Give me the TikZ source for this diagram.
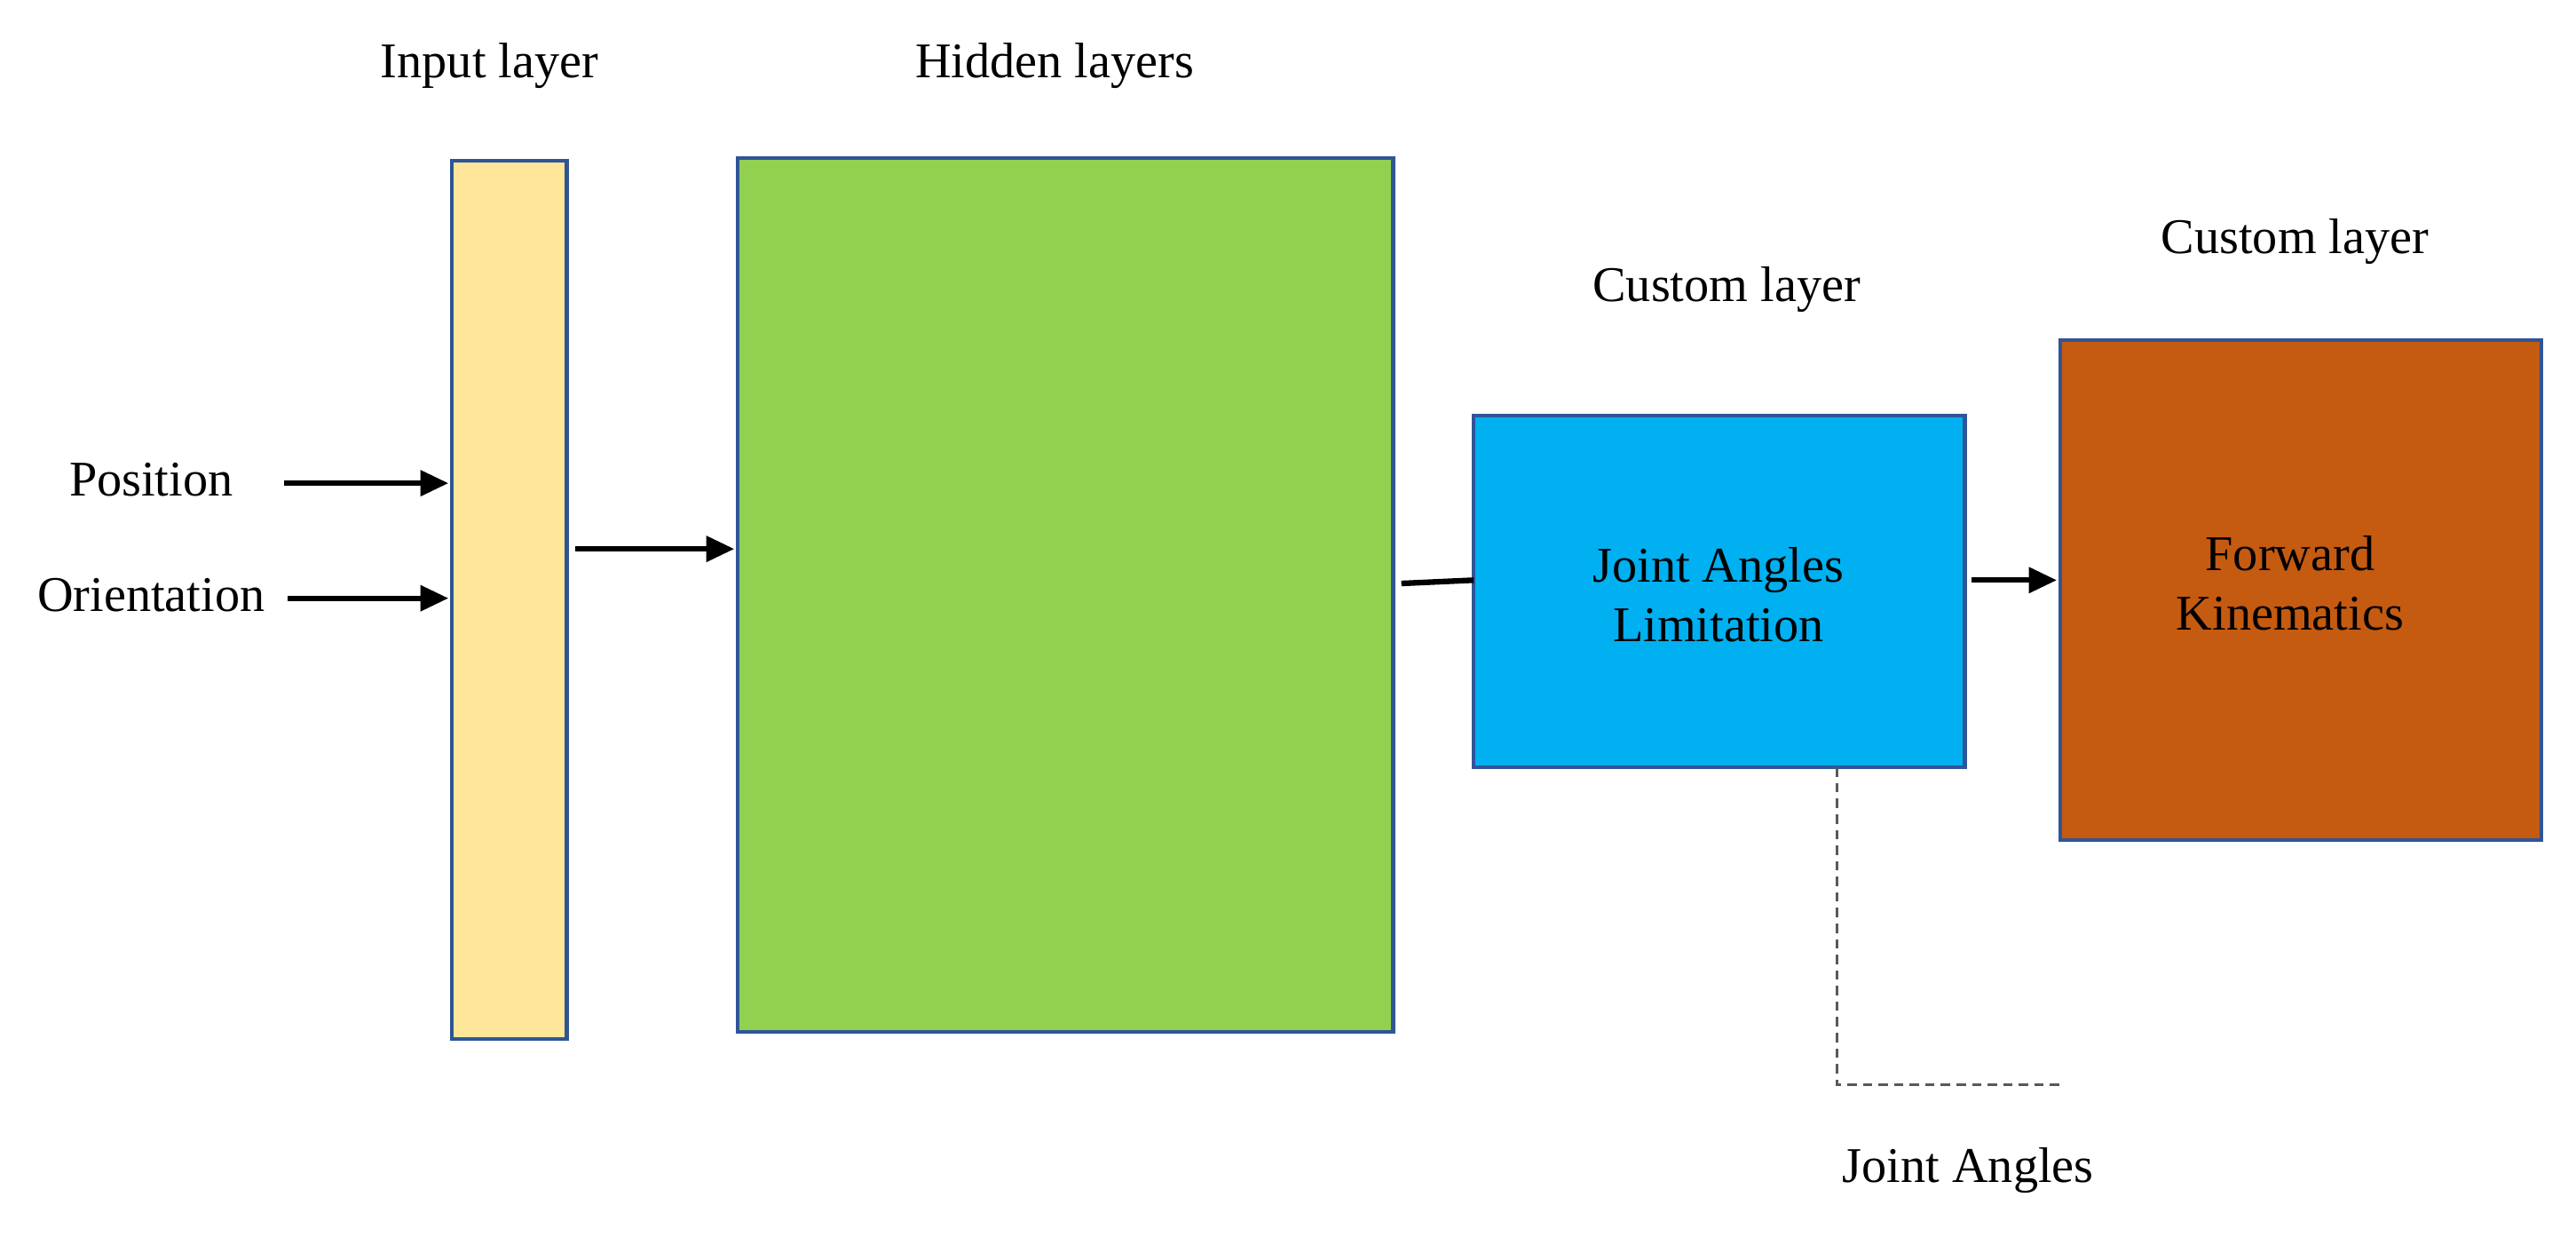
\documentclass[tikz,border=0pt]{standalone}
\usepackage{fontspec}
\setmainfont{Liberation Serif}
\usetikzlibrary{arrows.meta}
\definecolor{inp}{HTML}{FFE699}
\definecolor{hid}{HTML}{92D050}
\definecolor{blu}{HTML}{00B0F0}
\definecolor{ora}{HTML}{C55A11}
\definecolor{bord}{HTML}{2F5597}
\begin{document}
\begin{tikzpicture}[x=0.01851cm,y=-0.01851cm,
  box/.style={draw=bord,line width=1.2pt},
  lbl/.style={font=\fontsize{16}{19}\selectfont,align=center},
  arr/.style={line width=1.8pt,-{Triangle[length=9pt,width=8pt]}}]
\useasboundingbox[fill=white] (0,0) rectangle (1568,757);
\draw[box,fill=inp] (275,98) rectangle (345,632);
\draw[box,fill=hid] (449,96) rectangle (848,628);
\draw[box,fill=blu] (897,253) rectangle (1196,467);
\draw[box,fill=ora] (1254,207) rectangle (1547,511);
\node[lbl] (t1) at (298,40) {Input layer};
\node[lbl] (t2) at (642,40) {Hidden layers};
\node[lbl] (t3) at (1051,176) {Custom layer};
\node[lbl] (t4) at (1397,147) {Custom layer};
\node[lbl] (pos) at (92,292) {Position};
\node[lbl] (ori) at (92,362) {Orientation};
\node[lbl] (jl) at (1046,362) {Joint Angles\\Limitation};
\node[lbl] (fk) at (1394,355) {Forward\\Kinematics};
\node[lbl] (ja) at (1198,712) {Joint Angles};
\coordinate (a1) at (173,294); \coordinate (b1) at (273,294);
\coordinate (a2) at (175,364); \coordinate (b2) at (273,364);
\coordinate (a3) at (350,334); \coordinate (b3) at (447,334);
\coordinate (a4) at (853,355); \coordinate (b4) at (897,353);
\coordinate (a5) at (1200,353); \coordinate (b5) at (1252,353);
\coordinate (d1) at (1118,467); \coordinate (d2) at (1118,660); \coordinate (d3) at (1254,660);
\draw[arr] (a1) -- (b1);
\draw[arr] (a2) -- (b2);
\draw[arr] (a3) -- (b3);
\draw[line width=1.8pt] (a4) -- (b4);
\draw[arr] (a5) -- (b5);
\draw[dashed,line width=0.8pt,gray!70!black,dash pattern=on 3pt off 2pt] (d1) -- (d2) -- (d3);
\end{tikzpicture}
\end{document}
